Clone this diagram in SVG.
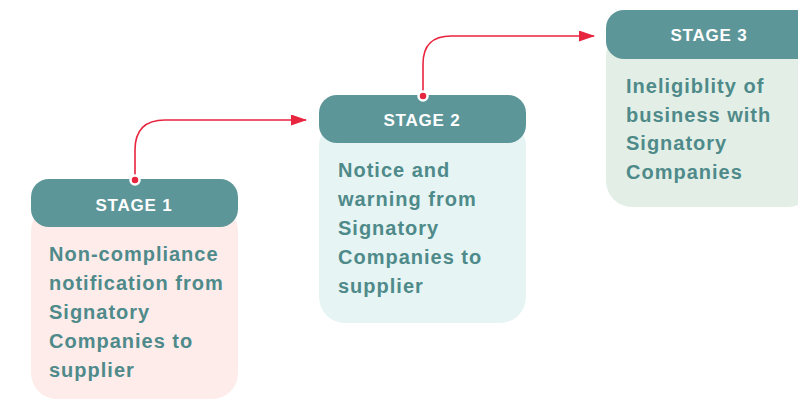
<svg xmlns="http://www.w3.org/2000/svg" width="798" height="403" viewBox="0 0 798 403">
  <defs>
    <marker id="arrow" markerWidth="16" markerHeight="11" refX="15" refY="5.5" orient="auto" markerUnits="userSpaceOnUse">
      <path d="M0,0 L16,5.5 L0,11 Z" fill="#e8253f"/>
    </marker>
    <style>
      .head { fill: #5d9699; }
      .label { font-family: "Liberation Sans", Arial, sans-serif; font-weight: bold; font-size: 17px; fill: #ffffff; text-anchor: middle; letter-spacing: 0.8px; }
      .body { font-family: "Liberation Sans", Arial, sans-serif; font-weight: bold; font-size: 20px; fill: #4f8a8a; letter-spacing: 1px; }
      .link { fill: none; stroke: #e8253f; stroke-width: 1.6; }
      .dot { fill: #e8253f; stroke: #ffffff; stroke-width: 2.5; }
    </style>
  </defs>
  <rect width="798" height="403" fill="#ffffff"/>

  <!-- Stage 1 -->
  <g id="stage1">
    <rect x="31" y="205" width="207" height="194" rx="26" fill="#fdecea"/>
    <rect class="head" x="31" y="179" width="207" height="48" rx="18"/>
    <text class="label" x="134" y="211">STAGE 1</text>
    <text class="body" x="49" y="261">Non-compliance</text>
    <text class="body" x="49" y="290">notification from</text>
    <text class="body" x="49" y="319">Signatory</text>
    <text class="body" x="49" y="348">Companies to</text>
    <text class="body" x="49" y="377">supplier</text>
  </g>

  <!-- Stage 2 -->
  <g id="stage2">
    <rect x="319" y="120" width="207" height="203" rx="26" fill="#e6f4f3"/>
    <rect class="head" x="319" y="95" width="207" height="48" rx="18"/>
    <text class="label" x="422" y="126">STAGE 2</text>
    <text class="body" x="338" y="177">Notice and</text>
    <text class="body" x="338" y="206">warning from</text>
    <text class="body" x="338" y="235">Signatory</text>
    <text class="body" x="338" y="264">Companies to</text>
    <text class="body" x="338" y="293">supplier</text>
  </g>

  <!-- Stage 3 -->
  <g id="stage3">
    <rect x="606" y="30" width="208" height="177" rx="26" fill="#e3efe6"/>
    <rect class="head" x="606" y="10" width="208" height="49" rx="18"/>
    <text class="label" x="709" y="41">STAGE 3</text>
    <text class="body" x="626" y="93">Ineligiblity of</text>
    <text class="body" x="626" y="122">business with</text>
    <text class="body" x="626" y="150">Signatory</text>
    <text class="body" x="626" y="179">Companies</text>
  </g>

  <!-- Connectors -->
  <g id="connectors">
    <path class="link" d="M135,179 V150 Q135,120 165,120 H306" marker-end="url(#arrow)"/>
    <circle class="dot" cx="135" cy="180" r="4.5"/>
    <path class="link" d="M423,95 V64 Q423,36 451,36 H594" marker-end="url(#arrow)"/>
    <circle class="dot" cx="423" cy="96" r="4.5"/>
  </g>
</svg>
